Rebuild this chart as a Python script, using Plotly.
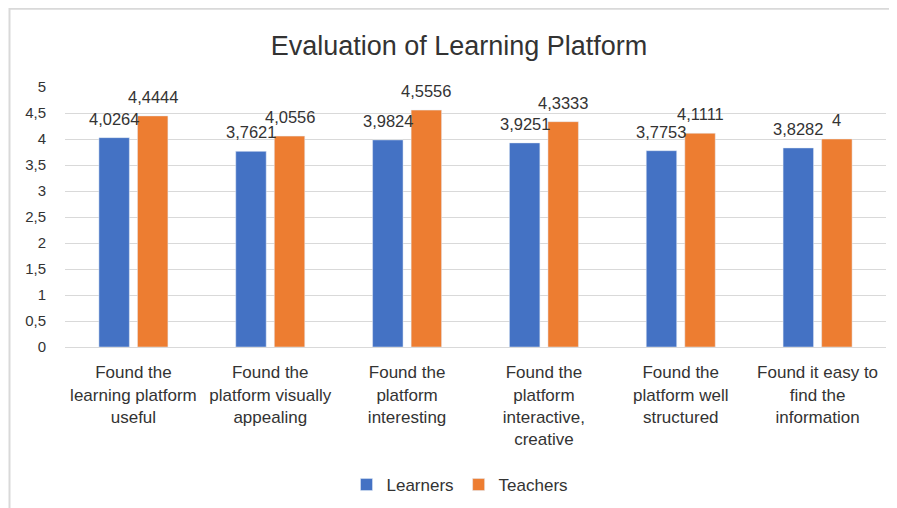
import plotly.graph_objects as go

categories = [
    "Found the<br>learning platform<br>useful",
    "Found the<br>platform visually<br>appealing",
    "Found the<br>platform<br>interesting",
    "Found the<br>platform<br>interactive,<br>creative",
    "Found the<br>platform well<br>structured",
    "Found it easy to<br>find the<br>information",
]
learners = [4.0264, 3.7621, 3.9824, 3.9251, 3.7753, 3.8282]
teachers = [4.4444, 4.0556, 4.5556, 4.3333, 4.1111, 4.0]
y_ticks = [0, 0.5, 1, 1.5, 2, 2.5, 3, 3.5, 4, 4.5, 5]

BLUE = "#4472C4"
ORANGE = "#ED7D31"
FONT = "Liberation Sans"
TXT = "#333333"

def fmt(v):
    return f"{v:g}".replace(".", ",")

fig = go.Figure()
fig.add_trace(go.Bar(name="Learners", x=categories, y=learners, marker_color=BLUE))
fig.add_trace(go.Bar(name="Teachers", x=categories, y=teachers, marker_color=ORANGE))

# page has an 8px body margin, so the figure is 889x500
W, H = 889, 500
L, R, T, B = 57, 11, 79, 161
pw, ph = W - L - R, H - T - B

annotations = []
for series, shift in ((learners, -19.3), (teachers, 19.3)):
    for c, v in zip(categories, series):
        annotations.append(dict(
            x=c, y=v, xref="x", yref="y", text=fmt(v), showarrow=False,
            xshift=shift, yshift=19, yanchor="middle", xanchor="center",
            font=dict(family=FONT, size=16.5, color=TXT),
        ))

# chart border (only top and left visible, as in the cropped reference)
x0 = (1.5 - L) / pw
x1 = (W + 5 - L) / pw
y1 = (H - B - 0.8) / ph
y0 = (H - B - (H + 5)) / ph

fig.update_layout(
    width=W, height=H,
    margin=dict(l=L, r=R, t=T, b=B, autoexpand=False),
    paper_bgcolor="white", plot_bgcolor="white",
    separators=",.",
    barmode="group", bargap=0.4365, bargroupgap=0.21,
    title=dict(text="Evaluation of Learning Platform", x=451 / W, xref="container",
               xanchor="center", y=1 - 38 / H, yref="container", yanchor="middle",
               font=dict(family=FONT, size=27, color="#333333")),
    font=dict(family=FONT, color=TXT),
    showlegend=True,
    legend=dict(orientation="h", x=(452 - L) / pw, xanchor="center", y=(H - B - 477) / ph,
                yanchor="middle", font=dict(family=FONT, size=17, color=TXT),
                itemwidth=30, traceorder="normal"),
    annotations=annotations,
    shapes=[dict(type="rect", xref="paper", yref="paper", x0=x0, x1=x1, y0=y0, y1=y1,
                 line=dict(color="#d9d9d9", width=2), fillcolor="rgba(0,0,0,0)", layer="below")],
)
fig.update_xaxes(showgrid=False, showline=True, linecolor="#d9d9d9", linewidth=1,
                 tickfont=dict(family=FONT, size=17, color=TXT), ticklabelstandoff=10,
                 tickangle=0, automargin=False)
fig.update_yaxes(range=[0, 5], tickvals=y_ticks, showgrid=True, gridcolor="#d9d9d9",
                 gridwidth=1, zeroline=False, showline=False, automargin=False,
                 tickfont=dict(family=FONT, size=15, color=TXT), ticklabelstandoff=18)

fig.write_html("out.html")
